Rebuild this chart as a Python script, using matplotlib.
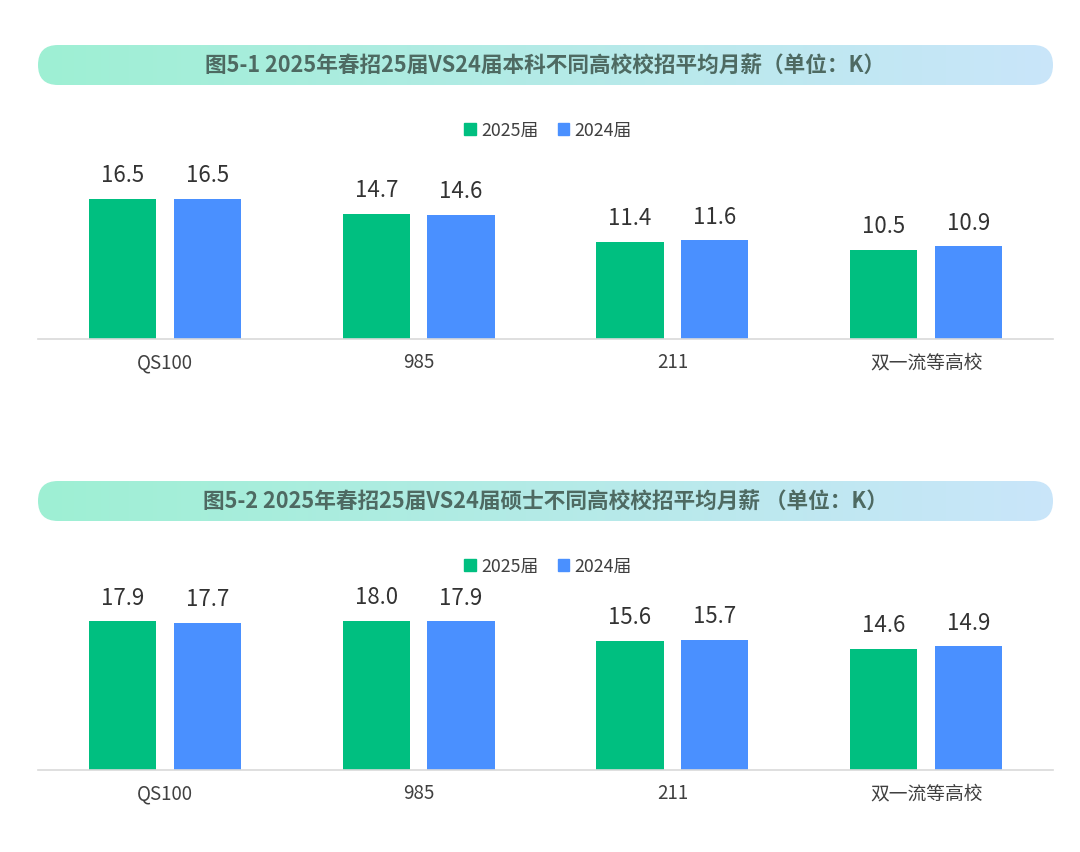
import numpy as np
import matplotlib
matplotlib.use("Agg")
import matplotlib.pyplot as plt
from matplotlib.patches import FancyBboxPatch, Patch

plt.rcParams["font.family"] = ["Noto Sans CJK SC", "DejaVu Sans"]

# data
categories = ["QS100", "985", "211", "双一流等高校"]
series_names = ["2025届", "2024届"]
bachelor_2025 = [16.5, 14.7, 11.4, 10.5]
bachelor_2024 = [16.5, 14.6, 11.6, 10.9]
master_2025 = [17.9, 18.0, 15.6, 14.6]
master_2024 = [17.7, 17.9, 15.7, 14.9]
titles = [
    "图5-1 2025年春招25届VS24届本科不同高校校招平均月薪（单位：K）",
    "图5-2 2025年春招25届VS24届硕士不同高校校招平均月薪 （单位：K）",
]

GREEN = "#00BF80"
BLUE = "#4A90FF"
TEXT = "#404040"
W, H = 1080, 853

fig = plt.figure(figsize=(W / 100, H / 100), dpi=100)
fig.patch.set_facecolor("white")

# background layer in pixel coordinates for the title banners
bg = fig.add_axes([0, 0, 1, 1])
bg.set_xlim(0, W)
bg.set_ylim(H, 0)
bg.axis("off")

grad = np.linspace(0, 1, 256)
c_left = np.array([0.62, 0.94, 0.83])
c_right = np.array([0.79, 0.90, 0.98])
img = c_left[None, None, :] * (1 - grad)[None, :, None] + c_right[None, None, :] * grad[None, :, None]


def banner(y0, y1, text):
    pill = FancyBboxPatch((38, y0), 1015, y1 - y0,
                          boxstyle="round,pad=0,rounding_size=%d" % ((y1 - y0) / 2),
                          facecolor="none", edgecolor="none")
    bg.add_patch(pill)
    im = bg.imshow(img, extent=[38, 1053, y1, y0], aspect="auto", zorder=1)
    im.set_clip_path(pill)
    bg.text(545, (y0 + y1) / 2, text, ha="center", va="center", fontsize=15.6,
            fontweight="bold", color="#4E6A62", zorder=2)


banner(46, 86, titles[0])
banner(482, 522, titles[1])


def bar_panel(rect, ymax, v1, v2, legend_y):
    ax = fig.add_axes(rect)
    x = np.arange(len(categories))
    w = 0.265
    off = 0.167
    b1 = ax.bar(x - off, v1, w, color=GREEN, label=series_names[0])
    b2 = ax.bar(x + off, v2, w, color=BLUE, label=series_names[1])
    for bars, vals in [(b1, v1), (b2, v2)]:
        for b, v in zip(bars, vals):
            ax.annotate("%.1f" % v, (b.get_x() + b.get_width() / 2, v),
                        xytext=(0, 17.5), textcoords="offset points",
                        ha="center", va="center", fontsize=16, color="#333333")
    ax.set_xlim(-0.5, len(categories) - 0.5)
    ax.set_ylim(0, ymax)
    ax.set_xticks(x)
    ax.set_xticklabels(categories, fontsize=13.5, color=TEXT)
    ax.tick_params(axis="x", length=0, pad=9)
    ax.set_yticks([])
    for s in ["top", "right", "left"]:
        ax.spines[s].set_visible(False)
    ax.spines["bottom"].set_color("#D9D9D9")
    ax.spines["bottom"].set_linewidth(1.2)
    ax.patch.set_alpha(0)
    handles = [Patch(color=GREEN), Patch(color=BLUE)]
    fig.legend(handles, series_names, loc="center", bbox_to_anchor=(548 / W, 1 - legend_y / H),
               ncol=2, frameon=False, fontsize=12.8, handlelength=0.65, handleheight=0.65,
               handletextpad=0.3, columnspacing=1.1, labelcolor=TEXT)
    return ax


bar_panel([38 / W, 1 - 340 / H, 1015 / W, 190 / H], 190 / 8.5, bachelor_2025, bachelor_2024, 131)
bar_panel([38 / W, 1 - 771 / H, 1015 / W, 191 / H], 191 / 8.3, master_2025, master_2024, 567)

fig.savefig("out.png", dpi=100)
